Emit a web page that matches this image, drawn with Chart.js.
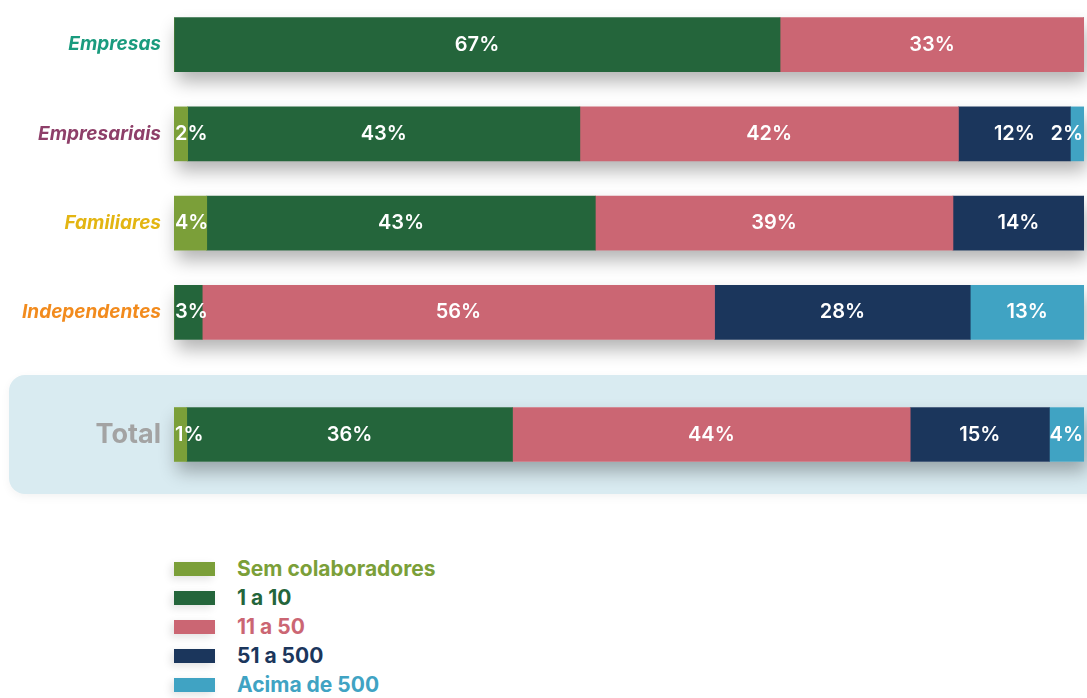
<!DOCTYPE html>
<html>
<head>
<meta charset="utf-8">
<script src="https://cdn.jsdelivr.net/npm/chart.js@4"></script>
<style>
  body { margin: 0; width: 1087px; height: 698px; overflow: hidden; background: #fff; font-family: Inter, sans-serif; position: relative; }
  #topWrap { position: absolute; left: 0; top: 0; width: 1087px; height: 375px; }
  #panel { position: absolute; left: 9px; top: 375px; width: 1110px; height: 119px; border-radius: 16px; background: #d9ebf1; box-shadow: 0 3px 10px rgba(0,0,0,0.05); }
  #totalWrap { position: absolute; left: 0; top: 375px; width: 1087px; height: 119px; }
  #legend { position: absolute; left: 174px; top: 554px; }
  .item { height: 29px; display: flex; align-items: center; }
  .box { width: 41px; height: 14px; margin-right: 22px; box-shadow: -3px 3px 8px rgba(0,0,0,0.12); }
  .txt { font-weight: 700; font-size: 21px; }
</style>
</head>
<body>
<div id="topWrap"><canvas id="topChart"></canvas></div>
<div id="panel"></div>
<div id="totalWrap"><canvas id="totalChart"></canvas></div>
<div id="legend"></div>
<script>
// rows
const categories = ["Empresas", "Empresariais", "Familiares", "Independentes"];
const catColors = ["#1a9b7e", "#8e3f69", "#e3b512", "#f28b1d"];

// series names + colours
const seriesNames = ["Sem colaboradores", "1 a 10", "11 a 50", "51 a 500", "Acima de 500"];
const seriesColors = ["#7b9f39", "#24653b", "#cb6673", "#1b365c", "#40a3c3"];

// shares per row (%), labels show rounded value
const semColab = [0, 1.5, 3.6, 0];
const de1a10 = [66.6, 43.1, 42.7, 3.1];
const de11a50 = [33.4, 41.6, 39.3, 56.3];
const de51a500 = [0, 12.3, 14.4, 28.1];
const acima500 = [0, 1.5, 0, 12.5];

// total row
const totalLabel = ["Total"];
const totalValues = [1.4, 35.8, 43.7, 15.3, 3.8];

const allSeries = [semColab, de1a10, de11a50, de51a500, acima500];

// shadow under each full bar
const barShadow = {
  id: "barShadow",
  beforeDatasetsDraw(chart) {
    const ctx = chart.ctx;
    const metas = chart.data.datasets.map((d, di) => chart.getDatasetMeta(di));
    ctx.save();
    ctx.shadowColor = "rgba(0,0,0,0.3)";
    ctx.shadowBlur = 18;
    ctx.shadowOffsetY = 10;
    ctx.shadowOffsetX = 3;
    ctx.fillStyle = "#fff";
    chart.data.labels.forEach((l, i) => {
      const bars = metas.map(m => m.data[i]);
      const left = Math.min(...bars.map(b => Math.min(b.base, b.x)));
      const right = Math.max(...bars.map(b => Math.max(b.base, b.x)));
      const h = bars[0].height;
      ctx.fillRect(left, bars[0].y - h / 2, right - left, h);
    });
    ctx.restore();
  }
};

// percent labels inside segments
const segLabels = {
  id: "segLabels",
  afterDatasetsDraw(chart) {
    const ctx = chart.ctx;
    const sets = chart.data.datasets;
    ctx.save();
    ctx.font = "600 20px Inter";
    ctx.fillStyle = "#fff";
    ctx.textBaseline = "middle";
    sets.forEach((ds, di) => {
      const meta = chart.getDatasetMeta(di);
      meta.data.forEach((bar, i) => {
        const v = ds.data[i];
        if (!v) return;
        const txt = Math.round(v) + "%";
        const w = ctx.measureText(txt).width;
        const left = Math.min(bar.base, bar.x), right = Math.max(bar.base, bar.x);
        const isLast = !sets.slice(di + 1).some(s => s.data[i]);
        let x;
        if (right - left >= w + 2) { x = (left + right) / 2; ctx.textAlign = "center"; }
        else if (isLast) { x = right - 1; ctx.textAlign = "right"; }
        else { x = left + 1; ctx.textAlign = "left"; }
        ctx.fillText(txt, x, bar.y);
      });
    });
    ctx.restore();
  }
};

function makeChart(id, labels, seriesData, tickFont, tickColor, padBottom) {
  return new Chart(document.getElementById(id), {
    type: "bar",
    data: {
      labels: labels,
      datasets: seriesNames.map((name, k) => ({
        label: name,
        data: seriesData[k],
        backgroundColor: seriesColors[k],
        borderWidth: 0,
        barThickness: 54
      }))
    },
    options: {
      indexAxis: "y",
      responsive: true,
      maintainAspectRatio: false,
      animation: false,
      layout: { padding: { top: 0, right: 3, bottom: padBottom, left: 0 } },
      plugins: { legend: { display: false }, tooltip: { enabled: false } },
      scales: {
        x: { stacked: true, min: 0, max: 100, display: false },
        y: {
          stacked: true,
          grid: { display: false, drawTicks: false },
          border: { display: false },
          afterFit: (s) => { s.width = 174; s.paddingTop = 0; s.paddingBottom = 0; },
          ticks: { padding: 13, font: tickFont, color: tickColor }
        }
      }
    },
    plugins: [barShadow, segLabels]
  });
}

makeChart("topChart", categories, allSeries,
  { family: "Inter", size: 19, weight: "bold", style: "italic" },
  (c) => catColors[c.index], 18);

makeChart("totalChart", totalLabel, totalValues.map(v => [v]),
  { family: "Inter", size: 27, weight: "bold" },
  "#a3a3a3", 0);

// legend
const legend = document.getElementById("legend");
seriesNames.forEach((name, k) => {
  const row = document.createElement("div");
  row.className = "item";
  row.innerHTML = `<div class="box" style="background:${seriesColors[k]}"></div>
    <span class="txt" style="color:${seriesColors[k]}">${name}</span>`;
  legend.appendChild(row);
});
</script>
</body>
</html>
